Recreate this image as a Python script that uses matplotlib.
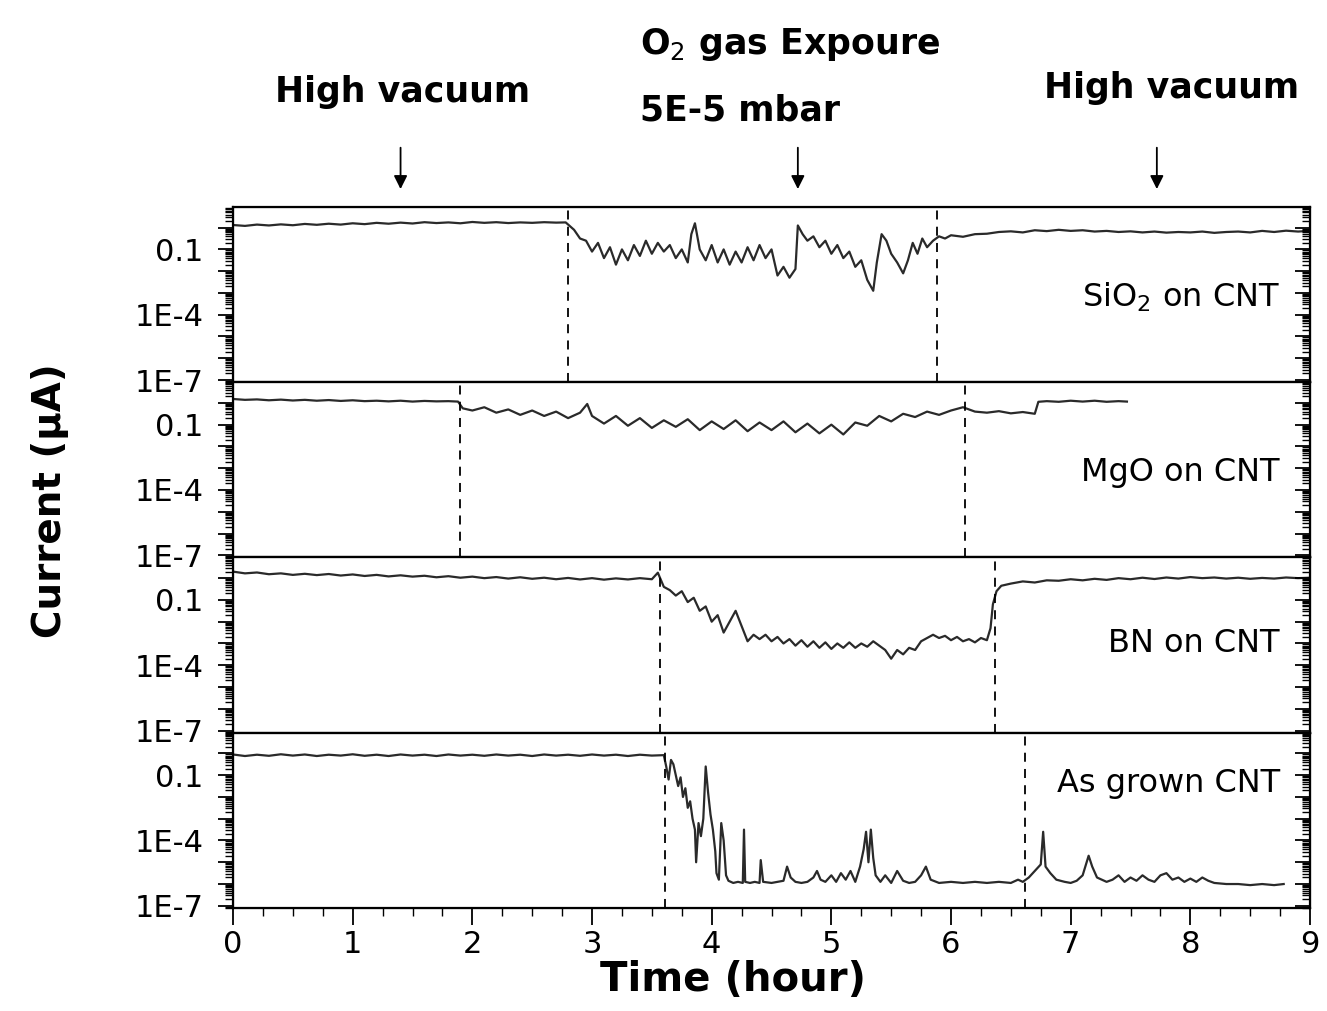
import numpy as np
import matplotlib
matplotlib.use("Agg")
import matplotlib.pyplot as plt
from matplotlib.ticker import LogLocator, MultipleLocator, NullFormatter

# (time in hour, log10 of current in uA)
sio2 = [(0.0,0.12),(0.1,0.08),(0.2,0.14),(0.3,0.10),(0.4,0.15),(0.5,0.11),(0.6,0.17),(0.7,0.13),
        (0.8,0.18),(0.9,0.14),(1.0,0.20),(1.1,0.16),(1.2,0.22),(1.3,0.18),(1.4,0.23),(1.5,0.19),
        (1.6,0.25),(1.7,0.21),(1.8,0.24),(1.9,0.20),(2.0,0.26),(2.1,0.22),(2.2,0.25),(2.3,0.21),
        (2.4,0.24),(2.5,0.22),(2.6,0.25),(2.7,0.23),(2.78,0.24),
        (2.85,-0.1),(2.9,-0.5),(2.95,-0.6),(3.0,-1.1),(3.05,-0.7),(3.1,-1.4),(3.15,-0.9),(3.2,-1.7),
        (3.25,-1.0),(3.3,-1.5),(3.35,-0.8),(3.4,-1.3),(3.45,-0.6),(3.5,-1.2),(3.55,-0.7),(3.6,-1.1),
        (3.65,-0.8),(3.7,-1.4),(3.75,-1.0),(3.8,-1.6),(3.83,-0.3),(3.86,0.2),(3.9,-1.0),(3.95,-1.5),
        (4.0,-0.8),(4.05,-1.6),(4.1,-1.0),(4.15,-1.7),(4.2,-1.1),(4.25,-1.6),(4.3,-0.9),(4.35,-1.5),
        (4.4,-0.8),(4.45,-1.4),(4.5,-1.0),(4.55,-2.2),(4.6,-1.8),(4.65,-2.3),(4.7,-1.9),(4.72,0.1),
        (4.76,-0.3),(4.8,-0.6),(4.85,-0.4),(4.9,-0.9),(4.95,-0.6),(5.0,-1.2),(5.05,-0.8),(5.1,-1.4),
        (5.15,-1.1),(5.2,-1.8),(5.25,-1.5),(5.3,-2.4),(5.35,-2.9),(5.38,-1.6),(5.42,-0.3),(5.46,-0.6),
        (5.5,-1.2),(5.55,-1.6),(5.6,-2.1),(5.64,-1.5),(5.68,-0.7),(5.72,-1.2),(5.76,-0.5),(5.8,-0.9),
        (5.85,-0.6),(5.9,-0.4),
        (5.95,-0.5),(6.0,-0.35),(6.1,-0.42),(6.2,-0.3),(6.3,-0.28),(6.4,-0.2),(6.5,-0.17),(6.6,-0.22),
        (6.7,-0.12),(6.8,-0.16),(6.9,-0.1),(7.0,-0.15),(7.1,-0.12),(7.2,-0.18),(7.3,-0.15),(7.4,-0.2),
        (7.5,-0.17),(7.6,-0.22),(7.7,-0.18),(7.8,-0.23),(7.9,-0.2),(8.0,-0.22),(8.1,-0.18),(8.2,-0.24),
        (8.3,-0.2),(8.4,-0.18),(8.5,-0.22),(8.6,-0.15),(8.7,-0.2),(8.8,-0.14),(8.9,-0.18),(9.0,-0.15)]

mgo = [(0.0,0.18),(0.1,0.14),(0.2,0.16),(0.3,0.12),(0.4,0.15),(0.5,0.11),(0.6,0.14),(0.7,0.10),
       (0.8,0.13),(0.9,0.09),(1.0,0.12),(1.1,0.08),(1.2,0.10),(1.3,0.07),(1.4,0.10),(1.5,0.06),
       (1.6,0.09),(1.7,0.07),(1.8,0.08),(1.88,0.06),
       (1.92,-0.25),(2.0,-0.35),(2.1,-0.2),(2.2,-0.45),(2.3,-0.3),(2.4,-0.55),(2.5,-0.35),(2.6,-0.6),
       (2.7,-0.4),(2.8,-0.7),(2.9,-0.45),(2.96,-0.05),(3.0,-0.6),(3.1,-0.95),(3.2,-0.6),(3.3,-1.05),
       (3.4,-0.7),(3.5,-1.15),(3.6,-0.8),(3.7,-1.1),(3.8,-0.75),(3.9,-1.25),(4.0,-0.85),(4.1,-1.2),
       (4.2,-0.8),(4.3,-1.3),(4.4,-0.9),(4.5,-1.25),(4.6,-0.85),(4.7,-1.35),(4.8,-0.95),(4.9,-1.4),
       (5.0,-1.0),(5.1,-1.45),(5.2,-0.9),(5.3,-1.05),(5.4,-0.6),(5.5,-0.85),(5.6,-0.5),(5.7,-0.65),
       (5.8,-0.4),(5.9,-0.55),(6.0,-0.35),(6.1,-0.2),(6.2,-0.4),(6.3,-0.45),(6.4,-0.38),(6.5,-0.48),
       (6.6,-0.42),(6.7,-0.5),(6.73,0.05),(6.8,0.08),(6.9,0.05),(7.0,0.1),(7.1,0.06),(7.2,0.1),
       (7.3,0.05),(7.4,0.08),(7.47,0.06)]

bn = [(0.0,0.30),(0.1,0.22),(0.2,0.26),(0.3,0.18),(0.4,0.22),(0.5,0.15),(0.6,0.20),(0.7,0.14),
      (0.8,0.19),(0.9,0.12),(1.0,0.17),(1.1,0.10),(1.2,0.15),(1.3,0.08),(1.4,0.13),(1.5,0.07),
      (1.6,0.11),(1.7,0.04),(1.8,0.09),(1.9,0.02),(2.0,0.07),(2.1,0.0),(2.2,0.05),(2.3,-0.02),
      (2.4,0.04),(2.5,-0.03),(2.6,0.02),(2.7,-0.05),(2.8,0.01),(2.9,-0.06),(3.0,0.0),(3.1,-0.07),
      (3.2,-0.01),(3.3,-0.06),(3.4,0.0),(3.5,-0.05),(3.55,0.25),
      (3.6,-0.4),(3.65,-0.55),(3.7,-0.8),(3.75,-0.6),(3.8,-1.1),(3.85,-0.9),(3.9,-1.5),(3.95,-1.3),
      (4.0,-2.0),(4.05,-1.7),(4.1,-2.5),(4.15,-2.0),(4.2,-1.5),(4.25,-2.2),(4.3,-2.9),(4.35,-2.6),
      (4.4,-2.8),(4.45,-2.6),(4.5,-2.9),(4.55,-2.7),(4.6,-3.0),(4.65,-2.8),(4.7,-3.1),(4.75,-2.85),
      (4.8,-3.15),(4.85,-2.9),(4.9,-3.2),(4.95,-2.95),(5.0,-3.25),(5.05,-3.0),(5.1,-3.2),(5.15,-2.95),
      (5.2,-3.2),(5.25,-3.0),(5.3,-3.15),(5.35,-2.9),(5.4,-3.1),(5.45,-3.3),(5.5,-3.7),(5.55,-3.3),
      (5.6,-3.5),(5.65,-3.2),(5.7,-3.3),(5.75,-2.9),(5.8,-2.75),(5.85,-2.6),(5.9,-2.75),(5.95,-2.65),
      (6.0,-2.85),(6.05,-2.7),(6.1,-2.9),(6.15,-2.8),(6.2,-2.95),(6.25,-2.75),(6.3,-2.85),(6.33,-2.3),
      (6.35,-1.2),(6.38,-0.6),(6.42,-0.35),(6.5,-0.25),(6.6,-0.15),(6.7,-0.2),(6.8,-0.1),(6.9,-0.12),
      (7.0,-0.05),(7.1,-0.1),(7.2,-0.03),(7.3,-0.08),(7.4,0.0),(7.5,-0.05),(7.6,0.02),(7.7,-0.04),
      (7.8,0.03),(7.9,-0.02),(8.0,0.05),(8.1,0.0),(8.2,0.03),(8.3,-0.02),(8.4,0.02),(8.5,-0.03),
      (8.6,0.01),(8.7,-0.02),(8.8,0.03),(8.9,0.0),(9.0,0.02)]

asgrown = [(0.0,-0.05),(0.1,-0.12),(0.2,-0.06),(0.3,-0.11),(0.4,-0.04),(0.5,-0.1),(0.6,-0.05),
           (0.7,-0.12),(0.8,-0.06),(0.9,-0.1),(1.0,-0.04),(1.1,-0.11),(1.2,-0.06),(1.3,-0.12),
           (1.4,-0.05),(1.5,-0.1),(1.6,-0.06),(1.7,-0.12),(1.8,-0.05),(1.9,-0.1),(2.0,-0.06),
           (2.1,-0.11),(2.2,-0.05),(2.3,-0.1),(2.4,-0.06),(2.5,-0.12),(2.6,-0.05),(2.7,-0.1),
           (2.8,-0.06),(2.9,-0.11),(3.0,-0.05),(3.1,-0.1),(3.2,-0.06),(3.3,-0.12),(3.4,-0.06),
           (3.5,-0.1),(3.6,-0.08),
           (3.62,-0.6),(3.64,-1.2),(3.66,-0.3),(3.68,-0.5),(3.7,-1.0),(3.72,-1.5),(3.74,-1.1),
           (3.76,-2.0),(3.78,-1.6),(3.8,-2.5),(3.82,-2.2),(3.84,-3.0),(3.86,-3.5),(3.87,-5.0),
           (3.89,-3.2),(3.91,-3.8),(3.93,-3.0),(3.95,-0.6),(3.97,-1.8),(3.99,-2.8),(4.01,-3.5),
           (4.03,-4.5),(4.04,-5.5),(4.06,-5.8),(4.08,-3.2),(4.1,-4.0),(4.12,-5.6),(4.14,-5.85),
           (4.18,-5.95),(4.22,-5.9),(4.26,-5.95),(4.27,-3.5),(4.28,-5.9),(4.32,-5.95),(4.36,-5.9),
           (4.4,-5.95),(4.41,-4.9),(4.43,-5.9),(4.5,-5.95),(4.55,-5.9),(4.6,-5.85),(4.63,-5.2),
           (4.66,-5.7),(4.7,-5.9),(4.75,-5.95),(4.8,-5.9),(4.85,-5.7),(4.88,-5.4),(4.91,-5.8),
           (4.95,-5.9),(5.0,-5.6),(5.04,-5.9),(5.08,-5.5),(5.12,-5.8),(5.16,-5.4),(5.2,-5.9),
           (5.24,-5.2),(5.27,-4.4),(5.29,-3.6),(5.31,-5.0),(5.33,-3.5),(5.35,-4.8),(5.37,-5.6),
           (5.41,-5.9),(5.45,-5.6),(5.5,-5.95),(5.55,-5.4),(5.6,-5.85),(5.65,-5.95),(5.7,-5.9),
           (5.75,-5.6),(5.79,-5.2),(5.83,-5.8),(5.9,-5.95),(6.0,-5.9),(6.1,-5.95),(6.2,-5.9),
           (6.3,-5.95),(6.4,-5.9),(6.5,-5.95),(6.56,-5.8),(6.6,-5.9),(6.65,-5.7),(6.7,-5.4),
           (6.75,-5.1),(6.77,-3.6),(6.79,-5.2),(6.83,-5.5),(6.88,-5.8),(6.95,-5.9),(7.0,-5.95),
           (7.05,-5.85),(7.1,-5.6),(7.15,-4.7),(7.18,-5.2),(7.22,-5.7),(7.3,-5.9),(7.35,-5.8),
           (7.4,-5.6),(7.45,-5.9),(7.5,-5.7),(7.55,-5.85),(7.6,-5.6),(7.65,-5.8),(7.7,-5.9),
           (7.75,-5.6),(7.8,-5.5),(7.85,-5.8),(7.9,-5.7),(7.95,-5.9),(8.0,-5.75),(8.05,-5.9),
           (8.1,-5.7),(8.15,-5.85),(8.2,-5.95),(8.3,-6.0),(8.4,-6.0),(8.5,-6.05),(8.6,-6.0),
           (8.7,-6.05),(8.78,-6.0)]

series = [sio2, mgo, bn, asgrown]
labels = ["SiO$_2$ on CNT", "MgO on CNT", "BN on CNT", "As grown CNT"]
label_ypos = [0.486, 0.486, 0.509, 0.709]
# gas on / gas off times for each sample
gas_times = [(2.8, 5.88), (1.9, 6.12), (3.57, 6.37), (3.61, 6.62)]
arrow_times = [1.4, 4.72, 7.72]

ytick_vals = [1e-7, 1e-6, 1e-5, 1e-4, 1e-3, 1e-2, 1e-1, 1]
ytick_text = ["1E-7", "", "", "1E-4", "", "", "0.1", ""]

fig = plt.figure(figsize=(13.27, 10.11), dpi=100)
gs = fig.add_gridspec(4, 1, left=0.1756, right=0.9872, top=0.7953, bottom=0.1019, hspace=0)

axes = []
for i in range(4):
    ax = fig.add_subplot(gs[i])
    axes.append(ax)
    d = np.array(series[i]).T
    ax.plot(d[0], 10 ** d[1], color="#2a2a2a", lw=1.6)
    for g in gas_times[i]:
        ax.axvline(g, color="k", lw=1.3, ls=(0, (5, 4)))
    ax.set_yscale("log")
    ax.set_ylim(10 ** -7.1, 10 ** 0.95)
    ax.set_xlim(0, 9)
    ax.set_yticks(ytick_vals, ytick_text)
    ax.yaxis.set_minor_locator(LogLocator(base=10, subs=np.arange(2, 10), numticks=100))
    ax.yaxis.set_minor_formatter(NullFormatter())
    ax.tick_params(axis="y", which="major", direction="out", length=11, width=1.3,
                   labelsize=22, pad=10)
    ax.tick_params(axis="y", which="minor", direction="out", length=6, width=1.0)
    for s in ax.spines.values():
        s.set_linewidth(1.6)
    ax.text(0.972, label_ypos[i], labels[i], transform=ax.transAxes, ha="right",
            va="center", fontsize=23)

    # inward ticks on the right spine
    axr = ax.twinx()
    axr.set_yscale("log")
    axr.set_ylim(ax.get_ylim())
    axr.set_yticks(ytick_vals, [""] * len(ytick_vals))
    axr.yaxis.set_minor_locator(LogLocator(base=10, subs=np.arange(2, 10), numticks=100))
    axr.yaxis.set_minor_formatter(NullFormatter())
    axr.tick_params(axis="y", which="major", direction="in", length=11, width=1.3)
    axr.tick_params(axis="y", which="minor", direction="in", length=6, width=1.0)

    if i < 3:
        ax.tick_params(axis="x", which="both", bottom=False, labelbottom=False)
    else:
        ax.xaxis.set_major_locator(MultipleLocator(1))
        ax.xaxis.set_minor_locator(MultipleLocator(0.25))
        ax.tick_params(axis="x", which="major", direction="out", length=12, width=1.3,
                       labelsize=22, pad=4)
        ax.tick_params(axis="x", which="minor", direction="out", length=6, width=1.0)

fig.text(0.552, 0.031, "Time (hour)", ha="center", va="center", fontsize=29, fontweight="bold")
fig.text(0.038, 0.505, "Current (μA)", rotation=90, ha="center", va="center",
         fontsize=28, fontweight="bold")

top = axes[0]
for t in arrow_times:
    top.annotate("", xy=(t, 1.086), xycoords=("data", "axes fraction"),
                 xytext=(t, 1.354), textcoords=("data", "axes fraction"),
                 arrowprops=dict(arrowstyle="-|>", color="k", lw=1.3, mutation_scale=20),
                 annotation_clip=False)

fig.text(0.3037, 0.909, "High vacuum", ha="center", va="center", fontsize=25, fontweight="bold")
fig.text(0.8832, 0.913, "High vacuum", ha="center", va="center", fontsize=25, fontweight="bold")
fig.text(0.4823, 0.9555, "O$_2$ gas Expoure", ha="left", va="center", fontsize=25, fontweight="bold")
fig.text(0.4823, 0.891, "5E-5 mbar", ha="left", va="center", fontsize=25, fontweight="bold")

fig.savefig("out.png", dpi=100)
